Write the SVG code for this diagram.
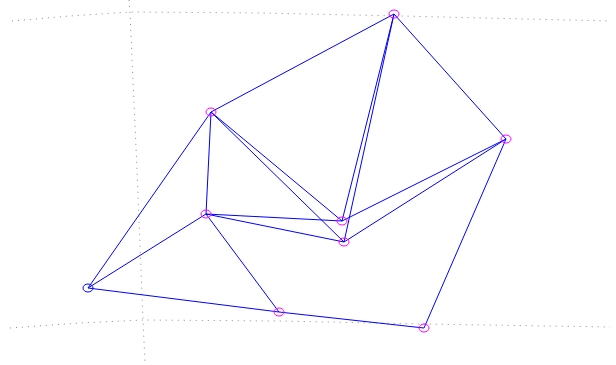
<svg xmlns="http://www.w3.org/2000/svg" width="616" height="365" viewBox="0 0 616 365">
<style>
.grid{fill:none;stroke:#8a8a8a;stroke-width:1;stroke-dasharray:1 5}
.edge{stroke:#0000ff;stroke-width:1;fill:none}
.node{fill:none;stroke:#ff00ff;stroke-width:1}
.node.blue{stroke:#0000ff}
</style>
<rect width="616" height="365" fill="#ffffff"/>
<g id="grid">
<polyline class="grid" points="12,21 70,16 130,12 260,13 400,16 610,21"/>
<polyline class="grid" points="10,328 80,323 143,320 279,321 424,324 610,327"/>
<polyline class="grid" points="129,0 130,12 137,170 143,320 145,363"/>
</g>
<g id="connectors">
<line class="edge" x1="394" y1="14" x2="211" y2="112"/>
<line class="edge" x1="394" y1="14" x2="506" y2="139"/>
<line class="edge" x1="394" y1="14" x2="342" y2="221"/>
<line class="edge" x1="394" y1="14" x2="344" y2="242"/>
<line class="edge" x1="211" y1="112" x2="206" y2="214"/>
<line class="edge" x1="211" y1="112" x2="342" y2="221"/>
<line class="edge" x1="211" y1="112" x2="344" y2="242"/>
<line class="edge" x1="211" y1="112" x2="88" y2="288"/>
<line class="edge" x1="506" y1="139" x2="342" y2="221"/>
<line class="edge" x1="506" y1="139" x2="344" y2="242"/>
<line class="edge" x1="506" y1="139" x2="424" y2="328"/>
<line class="edge" x1="206" y1="214" x2="342" y2="221"/>
<line class="edge" x1="206" y1="214" x2="344" y2="242"/>
<line class="edge" x1="206" y1="214" x2="88" y2="288"/>
<line class="edge" x1="206" y1="214" x2="279" y2="312"/>
<line class="edge" x1="88" y1="288" x2="279" y2="312"/>
<line class="edge" x1="279" y1="312" x2="424" y2="328"/>
</g>
<g id="nA"><ellipse class="node" cx="394" cy="14" rx="5" ry="4"/></g>
<g id="nB"><ellipse class="node" cx="211" cy="112" rx="5" ry="4"/></g>
<g id="nC"><ellipse class="node" cx="506" cy="139" rx="5" ry="4"/></g>
<g id="nD"><ellipse class="node" cx="206" cy="214" rx="5" ry="4"/></g>
<g id="nE"><ellipse class="node" cx="342" cy="221" rx="5" ry="4"/></g>
<g id="nF"><ellipse class="node" cx="344" cy="242" rx="5" ry="4"/></g>
<g id="nG"><ellipse class="node blue" cx="88" cy="288" rx="5" ry="4"/></g>
<g id="nH"><ellipse class="node" cx="279" cy="312" rx="5" ry="4"/></g>
<g id="nI"><ellipse class="node" cx="424" cy="328" rx="5" ry="4"/></g>
</svg>
